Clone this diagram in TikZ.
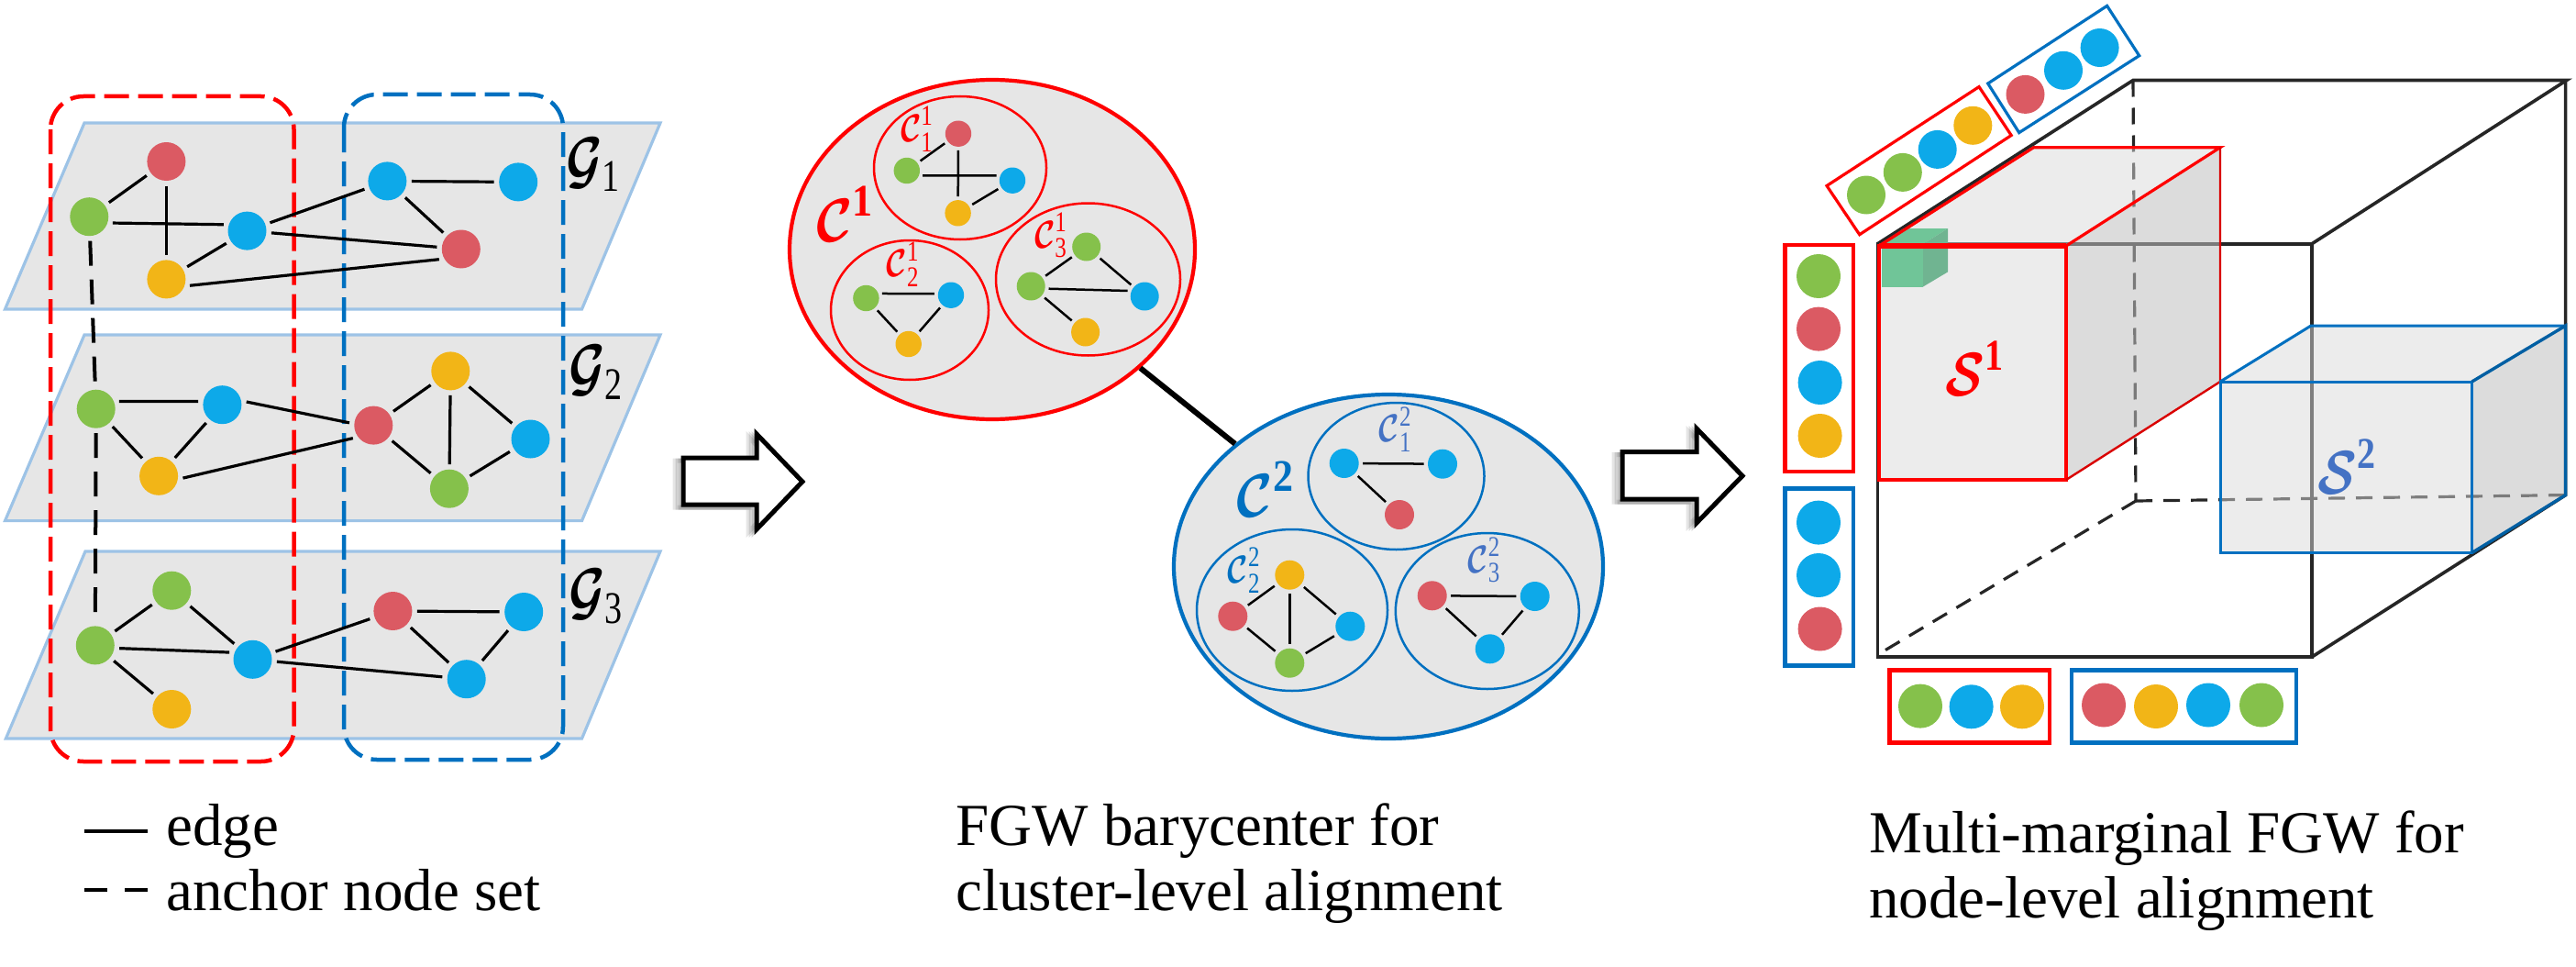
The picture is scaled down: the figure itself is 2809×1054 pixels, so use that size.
\documentclass[tikz,border=0pt]{standalone}
\usepackage{fix-cm}
\usepackage{amsmath}
\usepackage{fontspec}
\setmainfont{Liberation Serif}
\usetikzlibrary{shapes.geometric}
\definecolor{cg}{HTML}{85C14B}
\definecolor{cr}{HTML}{DB5A63}
\definecolor{cb}{HTML}{0DA9E9}
\definecolor{cy}{HTML}{F2B517}
\definecolor{mblue}{HTML}{0070C0}
\definecolor{lblue}{HTML}{4472C4}
\definecolor{pborder}{HTML}{9DC3E6}
\definecolor{pfill}{HTML}{E6E6E6}
\definecolor{cube}{HTML}{262626}
\definecolor{gfront}{HTML}{70C598}
\definecolor{gside}{HTML}{70B491}
\newcommand\dg[2]{\mbox{\fontsize{#1}{#1}\selectfont #2}}
\tikzset{
  x=0.5pt,y=-0.5pt,
  dot/.style={circle,draw=none,inner sep=0pt,minimum size=#1pt},
  big/.style={dot=21,outer sep=2.75pt},
  mid/.style={dot=14.2,outer sep=2pt},
  mid2/.style={dot=15.5,outer sep=2pt},
  mid3/.style={dot=16,outer sep=2.2pt},
  mark1/.style={dot=24},
  mark2/.style={dot=21},
  lnk/.style={draw=black,line width=1.6pt},
  lnks/.style={draw=black,line width=1.25pt},
  plane/.style={draw=pborder,fill=pfill,line width=1.6pt,line join=miter},
  dashbox/.style={line width=2.25pt,dash pattern=on 13.5pt off 5pt,rounded corners=18pt},
  anchorline/.style={draw=black,line width=2pt,dash pattern=on 13.5pt off 7.5pt},
  cluster/.style={ellipse,fill=pfill,inner sep=0pt,line width=2.1pt},
  subcluster/.style={ellipse,inner sep=0pt,line width=1.25pt},
  mbox/.style={line width=2.2pt},
  cubeline/.style={draw=cube,line width=1.8pt},
  cubedash/.style={draw=cube,line width=1.6pt,dash pattern=on 9pt off 6pt},
  frontf/.style={fill=black!15,fill opacity=.5},
  sidef/.style={fill=black!25,fill opacity=.55},
  txt/.style={font=\fontsize{32.5}{38}\selectfont,anchor=base west,inner sep=0pt},
  glab/.style={inner sep=0pt,yscale=1.3,font=\fontsize{27}{30}\selectfont},
  biglab/.style={inner sep=0pt,yscale=1.12,font=\fontsize{30}{32}\selectfont},
  slab/.style={inner sep=0pt,yscale=1.2,font=\fontsize{28}{32}\selectfont},
  smalllab/.style={inner sep=0pt,yscale=1.25,font=\fontsize{17}{20}\selectfont},
  hollow/.style={draw=black,fill=white,line width=2.5pt,line join=miter,miter limit=10},
  hshadow/.style={draw=black,line width=2.5pt,line join=miter}
}
\begin{document}
\begin{tikzpicture}
\useasboundingbox (0,0) rectangle (2809,1054);
% ------- planes
\draw[plane] (92,134) -- (720,134) -- (634.5,337) -- (5.5,337) -- cycle;
\draw[plane] (92,365) -- (720,365) -- (634.5,567.6) -- (5.5,567.6) -- cycle;
\draw[plane] (93,601) -- (720,601) -- (634.5,805) -- (6.4,805) -- cycle;
% ------- groups
\draw[dashbox,draw=red] (55,105) rectangle (320.5,830);
\draw[dashbox,draw=mblue] (375,103) rectangle (614,828);
% ------- G1
\node[big,fill=cr] (a1) at (181.4,176) {};
\node[big,fill=cg] (a2) at (97.3,236.2) {};
\node[big,fill=cb] (a3) at (269.5,251.6) {};
\node[big,fill=cy] (a4) at (181.4,304.4) {};
\node[big,fill=cb] (a5) at (422.4,197.4) {};
\node[big,fill=cb] (a6) at (565.2,198.4) {};
\node[big,fill=cr] (a7) at (502.8,271.5) {};
\draw[lnk] (a1) -- (a2);
\draw[lnk] (a1) -- (a4);
\draw[lnk] (a2.-15) -- (a3.165);
\draw[lnk] (a3) -- (a4);
\draw[lnk] (a3) -- (a5);
\draw[lnk] (a5) -- (a6);
\draw[lnk] (a5) -- (a7);
\draw[lnk] (a3) -- (a7);
\draw[lnk] (a4.-15) -- (a7.205);
% ------- G2
\node[big,fill=cg] (b1) at (104.7,445.7) {};
\node[big,fill=cb] (b2) at (242.4,441.2) {};
\node[big,fill=cy] (b3) at (173.1,518.8) {};
\node[big,fill=cr] (b4) at (407.3,463.6) {};
\node[big,fill=cy] (b5) at (491.3,404.4) {};
\node[big,fill=cb] (b6) at (578.5,478.5) {};
\node[big,fill=cg] (b7) at (489.9,532.7) {};
\draw[lnk] (b1.18) -- (b2.172);
\draw[lnk] (b1) -- (b3);
\draw[lnk] (b2) -- (b3);
\draw[lnk] (b2.7) -- (b4.174);
\draw[lnk] (b3.-5) -- (b4.212);
\draw[lnk] (b4) -- (b5);
\draw[lnk] (b4) -- (b7);
\draw[lnk] (b5) -- (b7);
\draw[lnk] (b5) -- (b6);
\draw[lnk] (b7) -- (b6);
% ------- G3
\node[big,fill=cg] (d1) at (187.3,643.7) {};
\node[big,fill=cg] (d2) at (103.8,703.4) {};
\node[big,fill=cb] (d3) at (275.5,718.8) {};
\node[big,fill=cy] (d4) at (187.3,773) {};
\node[big,fill=cr] (d5) at (428.4,666) {};
\node[big,fill=cb] (d6) at (571.2,667) {};
\node[big,fill=cb] (d7) at (508.7,740.2) {};
\draw[lnk] (d1) -- (d2);
\draw[lnk] (d1) -- (d3);
\draw[lnk] (d2.-7) -- (d3.163);
\draw[lnk] (d2) -- (d4);
\draw[lnk] (d3) -- (d5);
\draw[lnk] (d3) -- (d7);
\draw[lnk] (d5) -- (d6);
\draw[lnk] (d5) -- (d7);
\draw[lnk] (d6) -- (d7);
% ------- anchors
\draw[anchorline] (a2) -- (b1);
\draw[anchorline] (b1) -- (d2);
% ------- G labels
\node[glab] (g1) at (647,179.5) {$\boldsymbol{\mathcal{G}}_{\dg{19}{1}}$};
\node[glab] (g2) at (650,406) {$\boldsymbol{\mathcal{G}}_{\dg{19}{2}}$};
\node[glab] (g3) at (650,650) {$\boldsymbol{\mathcal{G}}_{\dg{19}{3}}$};
% ------- clusters 1
\node[cluster,draw=red,minimum width=221pt,minimum height=185pt] (c1) at (1082,272) {};
\node[cluster,draw=mblue,minimum width=234pt,minimum height=187.5pt] (c2) at (1514,617.5) {};
\draw[black,line width=3pt] (c1) -- (c2);
\node[subcluster,draw=red,minimum width=94pt,minimum height=78pt] (c11) at (1047,183) {};
\node[subcluster,draw=red,minimum width=86pt,minimum height=76pt] (c12) at (992,338) {};
\node[subcluster,draw=red,minimum width=100.5pt,minimum height=83pt] (c13) at (1186.5,304.5) {};
\node[mid,fill=cr] (e1) at (1045,145.7) {};
\node[mid,fill=cg] (e2) at (988.8,186) {};
\node[mid,fill=cb] (e3) at (1104,196.7) {};
\node[mid,fill=cy] (e4) at (1044.6,232.3) {};
\draw[lnks] (e1) -- (e2);
\draw[lnks] (e1) -- (e4);
\draw[lnks] (e2.-17) -- (e3.163);
\draw[lnks] (e3) -- (e4);
\node[mid,fill=cg] (f1) at (944.4,325) {};
\node[mid,fill=cb] (f2) at (1037,321.7) {};
\node[mid,fill=cy] (f3) at (990.7,375) {};
\draw[lnks] (f1.16) -- (f2.175);
\draw[lnks] (f1) -- (f3);
\draw[lnks] (f2) -- (f3);
\node[mid2,fill=cg] (h1) at (1184.7,269) {};
\node[mid2,fill=cg] (h2) at (1124.2,312) {};
\node[mid2,fill=cb] (h3) at (1248.2,323) {};
\node[mid2,fill=cy] (h4) at (1183.6,362) {};
\draw[lnks] (h1) -- (h2);
\draw[lnks] (h1) -- (h3);
\draw[lnks] (h2.-8) -- (h3.162);
\draw[lnks] (h2) -- (h4);
\node[biglab,text=red] (l1) at (921.4,233) {$\boldsymbol{\mathcal{C}}^{\dg{22}{\bfseries 1}}$};
\node[smalllab,text=red] (l11) at (1000,140.7) {$\boldsymbol{\mathcal{C}}_{\dg{12.5}{1}}^{\dg{12.5}{1}}$};
\node[smalllab,text=red] (l12) at (984.6,288) {$\boldsymbol{\mathcal{C}}_{\dg{12.5}{2}}^{\dg{12.5}{1}}$};
\node[smalllab,text=red] (l13) at (1146,256.7) {$\boldsymbol{\mathcal{C}}_{\dg{12.5}{3}}^{\dg{12.5}{1}}$};
% ------- clusters 2
\node[subcluster,draw=mblue,minimum width=96pt,minimum height=80pt] (c21) at (1522.5,519) {};
\node[subcluster,draw=mblue,minimum width=104pt,minimum height=88pt] (c22) at (1409,665) {};
\node[subcluster,draw=mblue,minimum width=100pt,minimum height=85pt] (c23) at (1621.8,666) {};
\node[mid3,fill=cb] (i1) at (1465.7,505) {};
\node[mid3,fill=cb] (i2) at (1573,505.7) {};
\node[mid3,fill=cr] (i3) at (1526,561) {};
\draw[lnks] (i1) -- (i2);
\draw[lnks] (i1) -- (i3);
\node[mid3,fill=cy] (j1) at (1406.3,626.7) {};
\node[mid3,fill=cr] (j2) at (1344.3,671.7) {};
\node[mid3,fill=cb] (j3) at (1472.3,682.7) {};
\node[mid3,fill=cg] (j4) at (1406.3,722.7) {};
\draw[lnks] (j2) -- (j1);
\draw[lnks] (j2) -- (j4);
\draw[lnks] (j1) -- (j4);
\draw[lnks] (j1) -- (j3);
\draw[lnks] (j4) -- (j3);
\node[mid3,fill=cr] (k1) at (1561.7,649.3) {};
\node[mid3,fill=cb] (k2) at (1673.7,650) {};
\node[mid3,fill=cb] (k3) at (1624.7,707.3) {};
\draw[lnks] (k1) -- (k2);
\draw[lnks] (k1) -- (k3);
\draw[lnks] (k2) -- (k3);
\node[biglab,text=mblue] (l2) at (1380,533) {$\boldsymbol{\mathcal{C}}^{\dg{22}{\bfseries 2}}$};
\node[smalllab,text=lblue] (l21) at (1521.7,468) {$\boldsymbol{\mathcal{C}}_{\dg{12.5}{1}}^{\dg{12.5}{2}}$};
\node[smalllab,text=mblue] (l22) at (1356.7,621.7) {$\boldsymbol{\mathcal{C}}_{\dg{12.5}{2}}^{\dg{12.5}{2}}$};
\node[smalllab,text=lblue] (l23) at (1618.3,610.7) {$\boldsymbol{\mathcal{C}}_{\dg{12.5}{3}}^{\dg{12.5}{2}}$};
% ------- hollow arrows
\foreach \s/\o in {-9/.10,-6/.12,-3/.14}{
  \draw[hshadow,opacity=\o] (745+\s,499+3) -- (825+\s,499+3) -- (825+\s,473+3) -- (875+\s,525+3) -- (825+\s,577+3) -- (825+\s,550+3) -- (745+\s,550+3) -- cycle;
  \draw[hshadow,opacity=\o] (1769+\s,492.7+3) -- (1850+\s,492.7+3) -- (1850+\s,467+3) -- (1900+\s,518.7+3) -- (1850+\s,570+3) -- (1850+\s,544+3) -- (1769+\s,544+3) -- cycle;
}
\draw[hollow] (745,499) -- (825,499) -- (825,473) -- (875,525) -- (825,577) -- (825,550) -- (745,550) -- cycle;
\draw[hollow] (1769,492.7) -- (1850,492.7) -- (1850,467) -- (1900,518.7) -- (1850,570) -- (1850,544) -- (1769,544) -- cycle;
% ------- big cube
\draw[cubeline] (2047.5,265.7) rectangle (2521,716);
\draw[cubeline] (2047.5,265.7) -- (2326,87.5) -- (2798.7,87.5) -- (2521,265.7);
\draw[cubeline] (2797.6,87.5) -- (2797.6,539.6) -- (2521,716);
\draw[cubedash] (2326,87.5) -- (2329,546);
\draw[cubedash] (2329,546) -- (2797.6,539.6);
\draw[cubedash] (2056,708.5) -- (2329,546);
% ------- S1
\fill[frontf] (2217.6,160.7) -- (2421,160.7) -- (2253,268) -- (2049,268) -- cycle;
\fill[sidef] (2253,268) -- (2421,160.7) -- (2421,416) -- (2253,523) -- cycle;
\fill[frontf] (2049,268) rectangle (2253,523);
% small green cube
\fill[fill=gfront] (2051.5,266) -- (2076,249) -- (2124,249) -- (2097,266) -- cycle;
\fill[fill=gfront] (2051.5,266) rectangle (2097,312.5);
\fill[fill=gside] (2097,266) -- (2124,249) -- (2124,296.4) -- (2097,312.5) -- cycle;
\draw[red,line width=1.6pt] (2049,268) rectangle (2253,523);
\draw[red,line width=3pt] (2049,268) -- (2253,268);
\draw[red,line width=1.6pt] (2253,268) -- (2421,160.7) -- (2217.6,160.7) -- (2049,268);
\draw[red!85!black,line width=1.2pt] (2421,160.7) -- (2421,416) -- (2253,523);
\node[slab,text=red] (s1) at (2153.6,402) {$\boldsymbol{\mathcal{S}}^{\dg{20}{\bfseries 1}}$};
% ------- S2
\fill[frontf] (2520,355) -- (2797.6,355) -- (2695.5,416) -- (2421,416) -- cycle;
\fill[sidef] (2695.5,416) -- (2797.6,355) -- (2797.6,539.6) -- (2695.5,602.5) -- cycle;
\fill[frontf] (2421,416) rectangle (2695.5,602.5);
\draw[mblue,line width=1.5pt] (2421,416) rectangle (2695.5,602.5);
\draw[mblue,line width=1.5pt] (2421,416) -- (2520,355) -- (2797.6,355);
\draw[mblue!85!black,line width=1.7pt] (2695.5,416) -- (2797.6,355) -- (2797.6,539.6) -- (2695.5,602.5);
\node[slab,text=lblue] (s2) at (2559.5,509) {$\boldsymbol{\mathcal{S}}^{\dg{20}{\bfseries 2}}$};
% ------- marginals left
\draw[mbox,draw=red] (1946.6,267) rectangle (2021,514);
\node[mark1,fill=cg] (m1) at (1983,301) {};
\node[mark1,fill=cr] (m2) at (1983,358.6) {};
\node[mark1,fill=cb] (m3) at (1984.6,417) {};
\node[mark1,fill=cy] (m4) at (1984.6,475) {};
\draw[mbox,draw=mblue] (1946.6,532.5) rectangle (2021,725.4);
\node[mark1,fill=cb] (m5) at (1983,569.6) {};
\node[mark1,fill=cb] (m6) at (1983,627) {};
\node[mark1,fill=cr] (m7) at (1984.6,685.5) {};
% ------- marginals bottom
\draw[mbox,draw=red] (2060.6,730.4) rectangle (2235.2,809.5);
\node[mark1,fill=cg] (n1) at (2094,769.6) {};
\node[mark1,fill=cb] (n2) at (2149.6,770.3) {};
\node[mark1,fill=cy] (n3) at (2205,770.3) {};
\draw[mbox,draw=mblue] (2259,730.4) rectangle (2504,809.5);
\node[mark1,fill=cr] (n4) at (2294,768.5) {};
\node[mark1,fill=cy] (n5) at (2351,770) {};
\node[mark1,fill=cb] (n6) at (2408,768.5) {};
\node[mark1,fill=cg] (n7) at (2466,768.5) {};
% ------- marginals top
\draw[line width=1.6pt,draw=red,line join=miter] (1992,202.5) -- (2158,94.6) -- (2193.2,147.5) -- (2027.7,255.7) -- cycle;
\node[mark2,fill=cg] (o1) at (2035,212.5) {};
\node[mark2,fill=cg] (o2) at (2074.8,187.9) {};
\node[mark2,fill=cb] (o3) at (2112.7,162.9) {};
\node[mark2,fill=cy] (o4) at (2151.3,136.8) {};
\draw[line width=1.6pt,draw=mblue,line join=miter] (2167.7,91) -- (2297.6,6.4) -- (2332.7,60.7) -- (2201.7,144.6) -- cycle;
\node[mark2,fill=cr] (o5) at (2208.5,102.9) {};
\node[mark2,fill=cb] (o6) at (2250,76.8) {};
\node[mark2,fill=cb] (o7) at (2289.6,52) {};
% ------- legend and captions
\coordinate (le1) at (92,906);
\coordinate (le2) at (161,906);
\coordinate (ld1) at (92,970);
\coordinate (ld2) at (161,970);
\draw[black,line width=2pt] (le1) -- (le2);
\draw[black,line width=2pt,dash pattern=on 12.5pt off 9.5pt] (ld1) -- (ld2);
\node[txt] (t1) at (181,921.7) {edge};
\node[txt] (t2) at (181,992.7) {anchor node set};
\node[txt] (t3) at (1042,921.7) {FGW barycenter for};
\node[txt] (t4) at (1042,992.7) {cluster-level alignment};
\node[txt] (t5) at (2038,929) {Multi-marginal FGW for};
\node[txt] (t6) at (2038,1000) {node-level alignment};
\end{tikzpicture}
\end{document}
